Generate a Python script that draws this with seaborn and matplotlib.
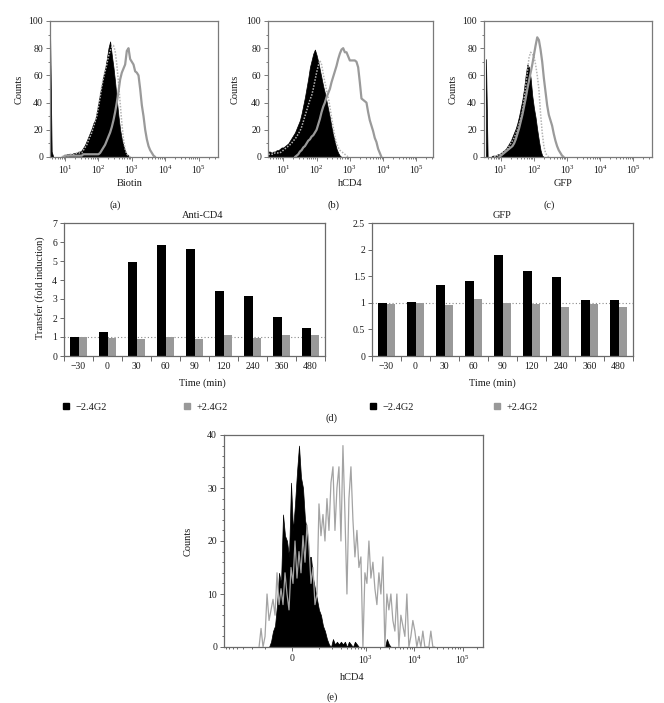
import numpy as np
import pandas as pd
import matplotlib
matplotlib.use('Agg')
import matplotlib.pyplot as plt
import seaborn as sns
from matplotlib.ticker import FixedLocator, FixedFormatter, MultipleLocator, NullFormatter
from matplotlib.lines import Line2D

# ---------------- data ----------------
# flow histograms (top row): counts on a log10 grid 0.55 ... 3.95 (step 0.05)
log_grid = np.round(np.arange(0.55, 3.951, 0.05), 2)

a_black = [96, 4, 0, 0, 0, 0, 0, 0, 1, 1,
           2, 2, 2, 2, 3, 3, 3, 4, 4, 5,
           7, 9, 12, 15, 18, 21, 25, 27, 33, 40,
           47, 53, 60, 65, 72, 80, 85, 75, 66, 55,
           42, 30, 20, 13, 8, 4, 2, 1, 0]
a_dot = [0, 0, 0, 0, 0, 0, 0, 0, 1, 1,
         1, 1, 2, 2, 2, 2, 3, 3, 3, 3,
         5, 7, 9, 12, 15, 18, 22, 26, 30, 37,
         44, 52, 58, 63, 68, 74, 78, 81, 82, 78,
         68, 55, 40, 25, 13, 6, 2, 1, 0]
a_gray = [0, 0, 0, 0, 0, 0, 0, 0, 0, 1,
          1, 1, 1, 1, 1, 1, 1, 1, 1, 1,
          2, 2, 2, 2, 2, 2, 2, 2, 2, 2,
          3, 5, 7, 9, 12, 15, 18, 22, 27, 33,
          40, 48, 57, 62, 65, 68, 78, 80, 72, 70,
          68, 63, 62, 60, 50, 38, 30, 20, 13, 8,
          5, 3, 1, 0]

b_black = [4, 4, 3, 4, 4, 5, 5, 6, 7, 7,
           8, 9, 10, 12, 14, 16, 18, 21, 24, 27,
           32, 38, 44, 51, 58, 66, 71, 76, 79, 75,
           70, 64, 58, 52, 47, 41, 35, 29, 22, 16,
           11, 6, 3, 1, 0]
b_dot = [2, 2, 2, 2, 3, 3, 3, 3, 4, 5,
         6, 7, 8, 9, 10, 12, 13, 15, 17, 19,
         22, 26, 30, 34, 38, 42, 45, 50, 56, 62,
         67, 71, 68, 61, 55, 49, 44, 37, 29, 22,
         15, 10, 7, 5, 4, 3, 2, 1, 0]
b_gray = [0, 0, 0, 0, 0, 0, 0, 0, 0, 0,
          0, 0, 0, 0, 0, 0, 0, 1, 2, 4,
          5, 7, 8, 10, 12, 13, 15, 16, 18, 20,
          24, 28, 33, 37, 40, 44, 47, 50, 55, 59,
          63, 67, 72, 76, 79, 80, 77, 77, 74, 71,
          71, 71, 71, 70, 66, 55, 43, 42, 41, 40,
          33, 27, 23, 19, 14, 11, 6, 3, 0]

c_black = [72, 0, 0, 0, 1, 1, 1, 2, 2, 3,
           4, 5, 6, 8, 10, 12, 15, 18, 21, 25,
           30, 36, 42, 50, 60, 68, 66, 58, 45, 36,
           29, 20, 12, 5, 1, 0]
c_dot = [0, 0, 0, 0, 0, 0, 1, 1, 1, 2,
         3, 4, 5, 6, 8, 10, 12, 14, 17, 20,
         24, 28, 33, 42, 52, 62, 73, 77, 76, 74,
         68, 60, 50, 32, 18, 8, 3, 1, 0]
c_gray = [0, 0, 0, 0, 0, 0, 0, 0, 0, 1,
          2, 3, 4, 5, 6, 7, 8, 10, 13, 17,
          21, 26, 31, 37, 43, 50, 56, 62, 68, 75,
          82, 88, 86, 79, 70, 58, 48, 38, 31, 27,
          23, 17, 12, 8, 5, 3, 1, 0]

# bar charts
times = ['\u221230', '0', '30', '60', '90', '120', '240', '360', '480']
conds = ['\u22122.4G2', '+2.4G2']
cd4_minus = [1.00, 1.27, 4.97, 5.83, 5.62, 3.43, 3.16, 2.06, 1.45]
cd4_plus = [0.99, 0.93, 0.92, 0.99, 0.92, 1.09, 0.93, 1.13, 1.11]
gfp_minus = [0.99, 1.02, 1.33, 1.41, 1.90, 1.59, 1.49, 1.05, 1.06]
gfp_plus = [0.98, 0.99, 0.96, 1.07, 0.99, 0.98, 0.93, 0.98, 0.93]

# panel (e): counts per channel (89 channels, evenly spaced on the asinh display scale)
e_lin_width = 60
e_black = [0, 0, 0, 0, 0, 0, 1, 3, 4, 8,
           14, 12, 25, 21, 20, 17, 31, 22, 27, 33,
           38, 32, 30, 24, 22, 17, 17, 13, 11, 9,
           7, 6, 4, 3, 1.5, 0.5, 0, 1.5, 0.5, 1,
           0.5, 1, 0.5, 1, 0, 1, 0.5, 0, 1, 0.5,
           0, 0, 0, 0, 0, 0, 0, 0, 0, 0,
           0, 0, 0, 0, 1.5, 0.5, 0, 0, 0, 0,
           0, 0, 0, 0, 0, 0, 0, 0, 0, 0,
           0, 0, 0, 0, 0, 0, 0, 0, 0]
e_gray = [0, 3.5, 0, 2, 10, 5, 7, 9, 6, 14,
          8, 11, 8, 14, 10, 7, 15, 12, 20, 13,
          18, 14, 21, 16, 23, 19, 12, 15, 8, 10,
          27, 21, 25, 20, 28, 22, 31, 34, 22, 30,
          34, 20, 38, 25, 10, 28, 34, 24, 17, 22,
          15, 17, 0, 14, 12, 20, 13, 16, 11, 8,
          14, 10, 17, 0, 10, 7, 10, 5, 3, 10,
          0, 6, 4, 2, 10, 0, 2, 5, 3, 0,
          2, 0, 3, 0, 0, 0, 3, 0, 0]

# ---------------- style ----------------
sns.set_theme(style='white')
plt.rcParams['font.family'] = ['Liberation Serif', 'DejaVu Serif']
plt.rcParams['mathtext.fontset'] = 'stix'

W, H = 664, 703
fig = plt.figure(figsize=(W / 100, H / 100), dpi=100)
TXT = '#1a1a1a'
SPINE = '#7a7a7a'
LFS = 7.5
TFS = 7


def rect(x0, y0, x1, y1):
    return [x0 / W, 1 - y1 / H, (x1 - x0) / W, (y1 - y0) / H]


def ftext(px, py, s, **kw):
    kw.setdefault('fontsize', LFS)
    fig.text(px / W, 1 - py / H, s, ha='center', va='center', color=TXT, **kw)


def pad(vals):
    return np.array(list(vals) + [0] * (len(log_grid) - len(vals)), float)


def trim(y):
    nz = np.nonzero(y)[0]
    return slice(max(nz[0] - 1, 0), min(nz[-1] + 2, len(y)))


def style_axes(ax, spine=SPINE):
    for sp in ax.spines.values():
        sp.set_visible(True)
        sp.set_color(spine)
        sp.set_linewidth(0.9)
    ax.tick_params(which='both', direction='out', bottom=True, left=True,
                   top=False, right=False, color=spine, width=0.7,
                   labelsize=TFS, labelcolor=TXT, pad=2)
    ax.tick_params(which='major', length=3)
    ax.tick_params(which='minor', length=1.6)
    ax.grid(False)


# ---------------- top row ----------------
top = [
    (rect(50, 21, 218, 157), (0.55, 5.58), a_black, a_dot, a_gray, 'Biotin', 130, 19, 115, '(a)'),
    (rect(268, 21, 433, 157), (0.54, 5.50), b_black, b_dot, b_gray, 'hCD4', 350, 235, 333, '(b)'),
    (rect(484, 21, 652, 157), (0.49, 5.57), c_black, c_dot, c_gray, 'GFP', 563, 453, 549, '(c)'),
]
xg = 10 ** log_grid
for r, lim, blk, dot, gry, xlab, xlx, cnx, plx, plab in top:
    ax = fig.add_axes(r)
    blk, dot, gry = pad(blk), pad(dot), pad(gry)
    s = trim(blk)
    ax.fill_between(xg[s], 0, blk[s], color='black', lw=0.5, edgecolor='black', zorder=2)
    s = trim(dot)
    sns.lineplot(x=xg[s], y=dot[s], ax=ax, color='#b4b4b4', lw=1.1,
                 linestyle=(0, (1, 1)), estimator=None, sort=False, zorder=3)
    s = trim(gry)
    sns.lineplot(x=xg[s], y=gry[s], ax=ax, color='#9a9a9a', lw=1.6,
                 estimator=None, sort=False, zorder=4)
    ax.set_xscale('log')
    ax.set_xlim(10 ** lim[0], 10 ** lim[1])
    ax.set_ylim(0, 100)
    ax.yaxis.set_major_locator(MultipleLocator(20))
    ax.yaxis.set_minor_locator(MultipleLocator(10))
    ax.set_xlabel('')
    ax.set_ylabel('')
    style_axes(ax)
    ftext(xlx, 183, xlab)
    ftext(cnx, 89, 'Counts', rotation=90)
    ftext(plx, 205, plab)

# ---------------- bar charts ----------------
bars = [
    (rect(64, 223, 325, 356), cd4_minus, cd4_plus, 'Anti-CD4', 203, 202, 7, 1, None, 67, 188),
    (rect(372, 223, 633, 356), gfp_minus, gfp_plus, 'GFP', 502, 492, 2.5, 0.5,
     ['0', '0.5', '1', '1.5', '2', '2.5'], 374, 498),
]
for r, mv, pv, title, tx, xlx, ymax, ystep, ylabs, lg1, lg2 in bars:
    ax = fig.add_axes(r)
    df = pd.DataFrame({
        'time': times * 2,
        'value': mv + pv,
        'cond': [conds[0]] * len(times) + [conds[1]] * len(times),
    })
    ax.axhline(1, color='#8a8a8a', lw=0.8, ls=(0, (1, 2)), zorder=0.5)
    sns.barplot(data=df, x='time', y='value', hue='cond', order=times, hue_order=conds,
                palette=['#000000', '#999999'], width=0.6, saturation=1, linewidth=0,
                ax=ax, legend=False, zorder=2)
    ax.set_xlim(-0.5, len(times) - 0.5)
    ax.set_ylim(0, ymax)
    ax.set_yticks(np.arange(0, ymax + 1e-9, ystep))
    if ylabs:
        ax.set_yticklabels(ylabs)
    ax.xaxis.set_minor_locator(FixedLocator(np.arange(-0.5, len(times), 1.0)))
    ax.set_xlabel('')
    ax.set_ylabel('')
    style_axes(ax, spine='#6a6a6a')
    ax.tick_params(axis='x', which='major', length=0, pad=4)
    ax.tick_params(axis='x', which='minor', length=3.5)
    ftext(tx, 215, title)
    ftext(xlx, 383, 'Time (min)')
    for px, c, lab in [(lg1, '#000000', conds[0]), (lg2, '#999999', conds[1])]:
        h = Line2D([], [], marker='s', ls='none', color=c, markersize=5)
        fig.legend([h], [lab], loc='center left', bbox_to_anchor=((px - 5) / W, 1 - 407 / H),
                   frameon=False, borderpad=0, borderaxespad=0, handlelength=0.8,
                   handletextpad=0.5, fontsize=LFS, labelcolor=TXT)

ftext(40, 288, 'Transfer (fold induction)', rotation=90)
ftext(332, 418, '(d)')

# ---------------- panel (e) ----------------
ax = fig.add_axes(rect(224, 435, 483, 647))
u = np.linspace(np.arcsinh(-137 / e_lin_width), np.arcsinh(26600 / e_lin_width), len(e_black))
ex = e_lin_width * np.sinh(u)
eb = np.array(e_black, float)
eg = np.array(e_gray, float)
ax.set_xscale('asinh', linear_width=e_lin_width)
ax.fill_between(ex, 0, eb, color='black', lw=0.5, edgecolor='black', zorder=2)
sns.lineplot(x=ex, y=eg, ax=ax, color='#a3a3a3', lw=0.9, estimator=None, sort=False, zorder=3)
ax.set_xlim(-756, 262144)
ax.set_ylim(0, 40)
ax.xaxis.set_major_locator(FixedLocator([0, 1e3, 1e4, 1e5]))
ax.xaxis.set_major_formatter(FixedFormatter(['0', r'$\mathdefault{10^{3}}$',
                                             r'$\mathdefault{10^{4}}$', r'$\mathdefault{10^{5}}$']))
minors = [-700, -600, -500, -400, -300, -200, -100, 100, 200, 300, 400, 500, 600, 700, 800, 900]
minors += [k * 1e3 for k in range(2, 10)] + [k * 1e4 for k in range(2, 10)] + [2e5]
ax.xaxis.set_minor_locator(FixedLocator(minors))
ax.xaxis.set_minor_formatter(NullFormatter())
ax.yaxis.set_major_locator(MultipleLocator(10))
ax.yaxis.set_minor_locator(MultipleLocator(2))
ax.set_xlabel('')
ax.set_ylabel('')
style_axes(ax, spine='#6a6a6a')
ftext(188, 541, 'Counts', rotation=90)
ftext(352, 677, 'hCD4')
ftext(332, 697, '(e)')

fig.savefig('out.png', dpi=100)
